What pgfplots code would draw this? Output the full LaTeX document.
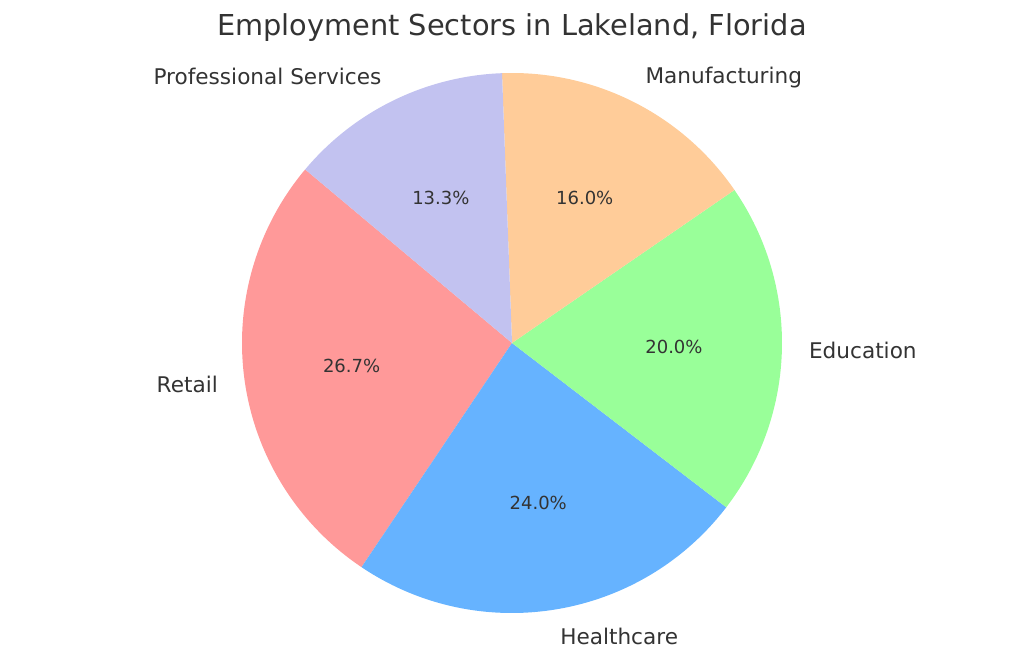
\documentclass[border=0pt]{standalone}
\usepackage{pgfplots}
\usepackage{pgfplotstable}
\pgfplotsset{compat=1.18}
\usepackage{fontspec}
\setmainfont{DejaVu Sans}

\definecolor{c0}{HTML}{FF9999}
\definecolor{c1}{HTML}{66B3FF}
\definecolor{c2}{HTML}{99FF99}
\definecolor{c3}{HTML}{FFCC99}
\definecolor{c4}{HTML}{C2C2F0}
\definecolor{txt}{HTML}{333333}

% share of each sector, in per cent, counterclockwise from 140 deg
\pgfplotstableread[col sep=comma]{
label,value
Retail,26.7
Healthcare,24.0
Education,20.0
Manufacturing,16.0
Professional Services,13.3
}\sectors

\begin{document}
\begin{tikzpicture}
\useasboundingbox (0,0) rectangle (1024pt,661pt);

% angles and label places from the table
\pgfplotstablegetrowsof{\sectors}
\pgfmathtruncatemacro\lastrow{\pgfplotsretval-1}
\gdef\cum{140}
\foreach \i in {0,...,\lastrow}{
  \pgfplotstablegetelem{\i}{value}\of\sectors
  \expandafter\xdef\csname pct\i\endcsname{\pgfplotsretval}
  \pgfmathsetmacro\da{\pgfplotsretval*3.6}
  \expandafter\xdef\csname sa\i\endcsname{\cum}
  \expandafter\xdef\csname da\i\endcsname{\da}
  \pgfmathsetmacro\midang{\cum+\da/2}
  \pgfmathsetmacro\cs{cos(\midang)}
  \pgfmathsetmacro\lx{512+297*cos(\midang)}
  \pgfmathsetmacro\ly{318+297*sin(\midang)}
  \pgfmathsetmacro\px{512+162*cos(\midang)}
  \pgfmathsetmacro\py{318+162*sin(\midang)}
  \expandafter\xdef\csname lx\i\endcsname{\lx}
  \expandafter\xdef\csname ly\i\endcsname{\ly}
  \expandafter\xdef\csname px\i\endcsname{\px}
  \expandafter\xdef\csname py\i\endcsname{\py}
  \ifdim\cs pt>0pt
    \expandafter\xdef\csname anc\i\endcsname{west}
  \else
    \expandafter\xdef\csname anc\i\endcsname{east}
  \fi
  \pgfplotstablegetelem{\i}{label}\of\sectors
  \expandafter\xdef\csname lab\i\endcsname{\pgfplotsretval}
  \pgfmathsetmacro\newcum{\cum+\da}
  \xdef\cum{\newcum}
}

\begin{axis}[
  at={(0,0)}, anchor=south west,
  scale only axis, width=1024pt, height=661pt,
  xmin=0, xmax=1024, ymin=0, ymax=661,
  hide axis, clip=false,
]
\pgfplotsinvokeforeach{0,...,4}{
  \fill[c#1] (axis cs:512,318) -- ++(\csname sa#1\endcsname:270pt)
    arc[start angle=\csname sa#1\endcsname, delta angle=\csname da#1\endcsname, radius=270pt] -- cycle;
}
\pgfplotsinvokeforeach{0,...,4}{
  \node[anchor=\csname anc#1\endcsname, inner sep=0pt, text=txt,
        font=\fontsize{21.6}{26}\selectfont]
    at (axis cs:\csname lx#1\endcsname,\csname ly#1\endcsname) {\csname lab#1\endcsname};
  \node[inner sep=0pt, text=txt, font=\fontsize{18}{22}\selectfont]
    at (axis cs:\csname px#1\endcsname,\csname py#1\endcsname) {\csname pct#1\endcsname\%};
}
\node[anchor=base, text=txt, font=\fontsize{28.8}{34}\selectfont]
  at (axis cs:512,625) {Employment Sectors in Lakeland, Florida};
\end{axis}
\end{tikzpicture}
\end{document}
